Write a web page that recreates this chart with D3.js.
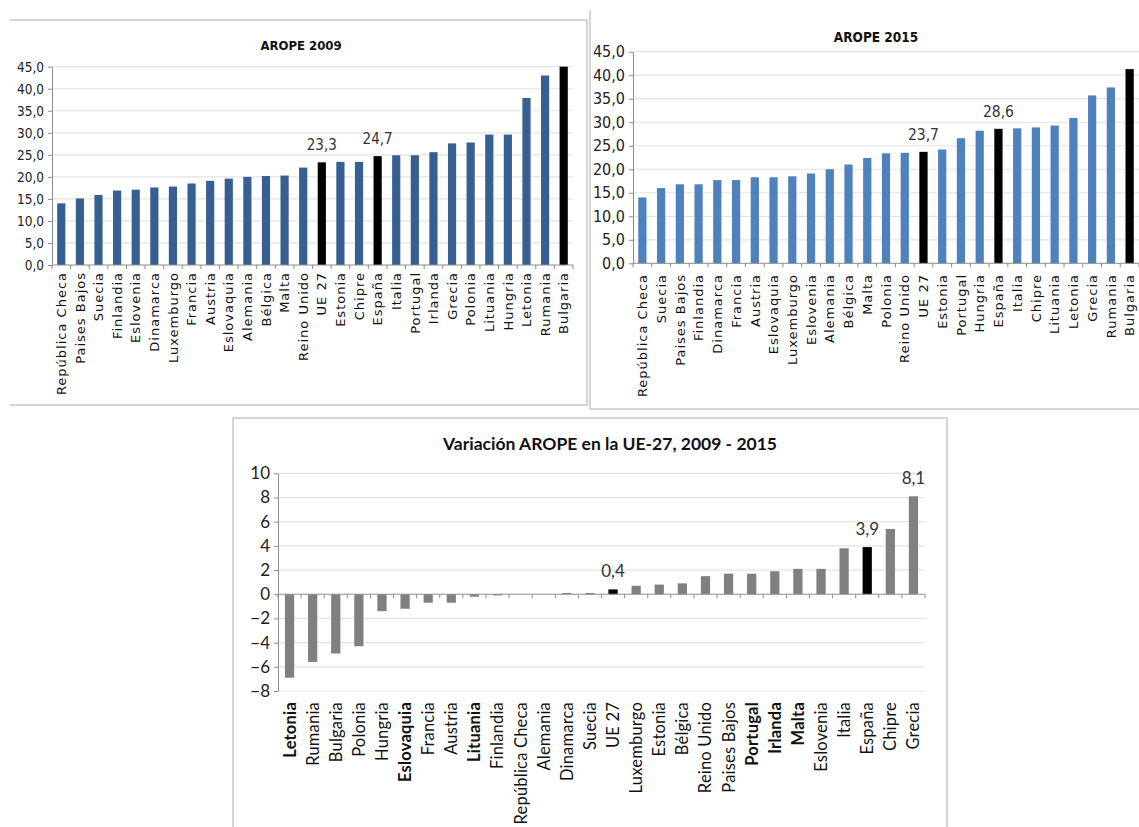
<!DOCTYPE html>
<html>
<head>
<meta charset="utf-8">
<script src="https://cdn.jsdelivr.net/npm/d3@7"></script>
<style>
body { margin: 0; background: #fff; }
svg { display: block; }
.marco { stroke: #c8c8c8; stroke-width: 1.5; fill: none; }
.grid line { stroke: #e3e3e3; stroke-width: 1.2; }
.eje { stroke: #8c8c8c; stroke-width: 1; fill: none; }
</style>
</head>
<body>
<svg id="chart" width="1139" height="827"></svg>
<script>
// ---- datos ----
var paises2009 = ["República Checa", "Paises Bajos", "Suecia", "Finlandia", "Eslovenia", "Dinamarca",
  "Luxemburgo", "Francia", "Austria", "Eslovaquia", "Alemania", "Bélgica", "Malta", "Reino Unido",
  "UE 27", "Estonia", "Chipre", "España", "Italia", "Portugal", "Irlanda", "Grecia", "Polonia",
  "Lituania", "Hungria", "Letonia", "Rumania", "Bulgaria"];
var arope2009 = [14.0, 15.1, 15.9, 16.9, 17.1, 17.6, 17.8, 18.5, 19.1, 19.6, 20.0, 20.2, 20.3, 22.1,
  23.3, 23.4, 23.4, 24.7, 24.9, 24.9, 25.6, 27.6, 27.8, 29.6, 29.6, 37.9, 43.0, 46.2];

var paises2015 = ["República Checa", "Suecia", "Paises Bajos", "Finlandia", "Dinamarca", "Francia",
  "Austria", "Eslovaquia", "Luxemburgo", "Eslovenia", "Alemania", "Bélgica", "Malta", "Polonia",
  "Reino Unido", "UE 27", "Estonia", "Portugal", "Hungria", "España", "Italia", "Chipre", "Lituania",
  "Letonia", "Grecia", "Rumania", "Bulgaria"];
var arope2015 = [14.0, 16.0, 16.8, 16.8, 17.7, 17.7, 18.3, 18.3, 18.5, 19.1, 20.0, 21.0, 22.4, 23.4,
  23.5, 23.7, 24.2, 26.6, 28.2, 28.6, 28.7, 28.9, 29.3, 30.9, 35.7, 37.4, 41.3];

var paisesVar = ["Letonia", "Rumania", "Bulgaria", "Polonia", "Hungria", "Eslovaquia", "Francia",
  "Austria", "Lituania", "Finlandia", "República Checa", "Alemania", "Dinamarca", "Suecia", "UE 27",
  "Luxemburgo", "Estonia", "Bélgica", "Reino Unido", "Paises Bajos", "Portugal", "Irlanda", "Malta",
  "Eslovenia", "Italia", "España", "Chipre", "Grecia"];
var variacion = [-6.9, -5.6, -4.9, -4.3, -1.4, -1.2, -0.7, -0.7, -0.2, -0.1, 0.0, 0.0, 0.1, 0.1, 0.4,
  0.7, 0.8, 0.9, 1.5, 1.7, 1.7, 1.9, 2.1, 2.1, 3.8, 3.9, 5.4, 8.1];

var ticksArope = [0, 5, 10, 15, 20, 25, 30, 35, 40, 45];
var ticksVar = [-8, -6, -4, -2, 0, 2, 4, 6, 8, 10];

var svg = d3.select("#chart");
var coma = function(d) { return d3.format(".1f")(d).replace(".", ","); };

// marcos de los tres paneles
svg.append("path").attr("class", "marco").attr("d", "M10,20 H587 V405 H10");
svg.append("path").attr("class", "marco").attr("d", "M590,10 V409 H1139");
svg.append("path").attr("class", "marco").attr("d", "M233,827 V418 H947 V827");

drawChart({
  cats: paises2009, vals: arope2009, domain: [0, 45], ticks: ticksArope, tickFmt: coma,
  left: 52, right: 573, top: 66.7, bottom: 265, pad: 0.56,
  color: "#375f92", negro: ["UE 27", "España", "Bulgaria"], etiquetas: ["UE 27", "España"],
  title: "AROPE  2009", titleX: 301, titleY: 50, titleSize: 13, titleFont: "narrow",
  tickSize: 13.5, tickFont: "narrow", labelSize: 13, labelFont: "DejaVu Sans", labelSpacing: 1,
  labelY: 272, valSize: 15, valFont: "narrow", bold: []
});

drawChart({
  cats: paises2015, vals: arope2015, domain: [0, 45], ticks: ticksArope, tickFmt: coma,
  left: 633, right: 1139, top: 51.7, bottom: 263.3, pad: 0.56,
  color: "#4f81bd", negro: ["UE 27", "España", "Bulgaria"], etiquetas: ["UE 27", "España"],
  title: "AROPE 2015", titleX: 876, titleY: 42, titleSize: 13.5, titleFont: "narrow",
  tickSize: 16, tickFont: "narrow", labelSize: 13, labelFont: "DejaVu Sans", labelSpacing: 1,
  labelY: 274, valSize: 15.5, valFont: "narrow", bold: []
});

drawChart({
  cats: paisesVar, vals: variacion, domain: [-8, 10], ticks: ticksVar, tickFmt: d3.format("d"),
  left: 278, right: 925, top: 473.3, bottom: 691, pad: 0.6,
  color: "#808080", negro: ["UE 27", "España"], etiquetas: ["UE 27", "España", "Grecia"],
  title: "Variación AROPE en la UE-27, 2009 - 2015", titleX: 610, titleY: 450, titleSize: 17.5, titleFont: "Lato",
  tickSize: 17, tickFont: "Lato", labelSize: 16.5, labelFont: "Lato", labelSpacing: 0.2,
  labelY: 702, valSize: 17, valFont: "Lato", bold: ["Letonia", "Eslovaquia", "Lituania", "Portugal", "Irlanda", "Malta"]
});

function fam(f) {
  return f === "narrow" ? "'DejaVu Sans Condensed', 'Liberation Sans Narrow', sans-serif" : f + ", sans-serif";
}

function drawChart(o) {
  var data = o.cats.map(function(c, i) { return {pais: c, v: o.vals[i]}; });

  var x = d3.scaleBand().domain(o.cats).range([o.left, o.right])
      .paddingInner(o.pad).paddingOuter(o.pad / 2);
  var y = d3.scaleLinear().domain(o.domain).range([o.bottom, o.top]).clamp(true);

  var g = svg.append("g");

  // lineas de cuadricula
  g.append("g").attr("class", "grid")
    .selectAll("line").data(o.ticks.filter(function(t) { return t !== 0; }))
    .enter().append("line")
      .attr("x1", o.left).attr("x2", o.right)
      .attr("y1", function(d) { return y(d); }).attr("y2", function(d) { return y(d); });

  // barras
  g.selectAll("rect.bar").data(data).enter().append("rect")
      .attr("class", "bar")
      .attr("x", function(d) { return x(d.pais); })
      .attr("width", x.bandwidth())
      .attr("y", function(d) { return Math.min(y(d.v), y(0)); })
      .attr("height", function(d) { return Math.abs(y(d.v) - y(0)); })
      .attr("fill", function(d) { return o.negro.indexOf(d.pais) >= 0 ? "#000" : o.color; });

  // eje y
  var yAxis = g.append("g")
      .attr("transform", "translate(" + o.left + ",0)")
      .call(d3.axisLeft(y).tickValues(o.ticks).tickFormat(o.tickFmt).tickSize(4).tickSizeOuter(0));
  yAxis.select(".domain").attr("stroke", "#8c8c8c");
  yAxis.selectAll(".tick line").attr("stroke", "#8c8c8c");
  yAxis.selectAll(".tick text")
      .attr("x", -8)
      .attr("fill", "#222")
      .style("font-family", fam(o.tickFont))
      .style("font-size", o.tickSize + "px");

  // eje x en el cero, con marcas entre categorias
  var y0 = y(0);
  g.append("line").attr("class", "eje")
      .attr("x1", o.left).attr("x2", o.right).attr("y1", y0).attr("y2", y0);
  var bordes = d3.range(o.cats.length + 1).map(function(i) { return o.left + i * x.step(); });
  g.selectAll("line.marca").data(bordes).enter().append("line")
      .attr("class", "eje")
      .attr("x1", function(d) { return d; }).attr("x2", function(d) { return d; })
      .attr("y1", y0).attr("y2", y0 + 4);

  // etiquetas de categoria
  g.selectAll("text.cat").data(o.cats).enter().append("text")
      .attr("transform", function(d) {
        return "translate(" + (x(d) + x.bandwidth() / 2) + "," + o.labelY + ") rotate(-90)";
      })
      .attr("dy", "0.36em")
      .attr("text-anchor", "end")
      .attr("fill", "#111")
      .style("font-family", fam(o.labelFont))
      .style("font-size", o.labelSize + "px")
      .style("letter-spacing", o.labelSpacing + "px")
      .style("font-weight", function(d) { return o.bold.indexOf(d) >= 0 ? "bold" : "normal"; })
      .text(function(d) { return d; });

  // valores destacados
  g.selectAll("text.val").data(data.filter(function(d) { return o.etiquetas.indexOf(d.pais) >= 0; }))
    .enter().append("text")
      .attr("x", function(d) { return x(d.pais) + x.bandwidth() / 2; })
      .attr("y", function(d) { return y(d.v) - 12; })
      .attr("text-anchor", "middle")
      .attr("fill", "#333")
      .style("font-family", fam(o.valFont))
      .style("font-size", o.valSize + "px")
      .text(function(d) { return coma(d.v); });

  // titulo
  g.append("text")
      .attr("x", o.titleX).attr("y", o.titleY)
      .attr("text-anchor", "middle")
      .attr("fill", "#111")
      .style("font-family", fam(o.titleFont))
      .style("font-weight", "bold")
      .style("font-size", o.titleSize + "px")
      .text(o.title);
}
</script>
</body>
</html>
